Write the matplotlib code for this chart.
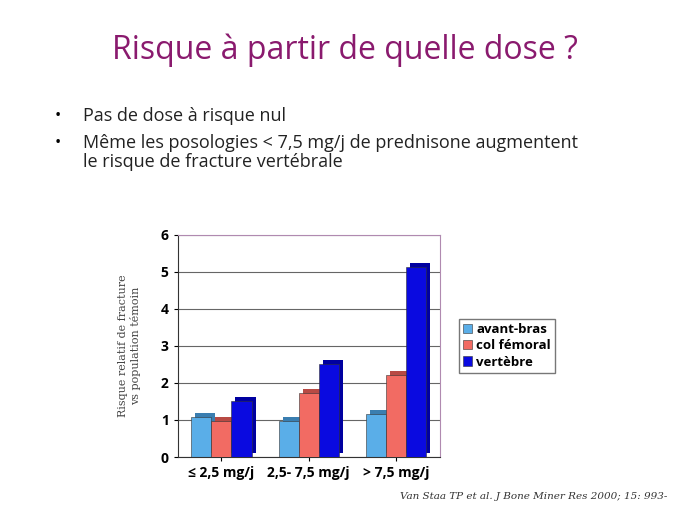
import matplotlib
matplotlib.use("Agg")
import matplotlib.pyplot as plt
import numpy as np
from matplotlib.transforms import ScaledTranslation

categories = ["≤ 2,5 mg/j", "2,5- 7,5 mg/j", "> 7,5 mg/j"]
series_names = ["avant-bras", "col fémoral", "vertèbre"]
avant_bras = [1.08, 0.97, 1.15]
col_femoral = [0.96, 1.72, 2.22]
vertebre = [1.52, 2.5, 5.13]
yticks = [0, 1, 2, 3, 4, 5, 6]

colors = ["#5aaee8", "#f26b63", "#0a0ae0"]
dark = ["#3a7eb0", "#b84a44", "#0000a0"]

fig = plt.figure(figsize=(6.89, 5.17), dpi=100)
fig.patch.set_facecolor("white")

fig.text(0.5, 0.903, "Risque à partir de quelle dose ?", ha="center", va="center",
         fontsize=23, color="#8a1a6e", family="Open Sans")
fs = 13
fig.text(0.08, 0.775, "•", fontsize=12, va="center", family="Open Sans")
fig.text(0.12, 0.775, "Pas de dose à risque nul", fontsize=fs, va="center", family="Open Sans", color="#222")
fig.text(0.08, 0.724, "•", fontsize=12, va="center", family="Open Sans")
fig.text(0.12, 0.724, "Même les posologies < 7,5 mg/j de prednisone augmentent", fontsize=fs, va="center", family="Open Sans", color="#222")
fig.text(0.12, 0.686, "le risque de fracture vertébrale", fontsize=fs, va="center", family="Open Sans", color="#222")

ax = fig.add_axes([0.258, 0.116, 0.38, 0.43])
x = np.arange(len(categories))
w = 0.23
data = [avant_bras, col_femoral, vertebre]
off = ScaledTranslation(4/100, 4/100, fig.dpi_scale_trans)
for i, vals in enumerate(data):
    pos = x + (i - 1) * w
    ax.bar(pos, vals, w, color=dark[i], edgecolor="none", zorder=2 + i,
           transform=ax.transData + off)
    ax.bar(pos, vals, w, color=colors[i], edgecolor="#333", linewidth=0.4,
           zorder=2.5 + i, label=series_names[i])

ax.set_ylim(0, 6)
ax.set_xlim(-0.5, 2.5)
ax.set_yticks(yticks)
ax.set_yticklabels([str(t) for t in yticks], fontsize=10, fontweight="bold", family="Open Sans")
ax.set_xticks(x)
ax.set_xticklabels(categories, fontsize=10, fontweight="bold", family="Open Sans")
ax.grid(axis="y", color="#666", linewidth=0.8, zorder=0)
for s in ["top", "right"]:
    ax.spines[s].set_color("#b08ab0")
ax.spines["left"].set_color("#333")
ax.spines["bottom"].set_color("#333")
ax.tick_params(length=3)
ax.set_ylabel("Risque relatif de fracture\nvs population témoin", fontsize=8,
              family="DejaVu Serif", color="#444", labelpad=14)

leg = ax.legend(loc="center left", bbox_to_anchor=(1.05, 0.5),
                prop={"family": "Open Sans", "weight": "bold", "size": 9.5},
                frameon=True, edgecolor="#555", fancybox=False,
                handlelength=0.7, handletextpad=0.3, borderpad=0.3, labelspacing=0.25)

fig.text(0.58, 0.035, "Van Staa TP et al. J Bone Miner Res 2000; 15: 993-",
         fontsize=7.5, style="italic", family="DejaVu Serif", color="#333")

fig.savefig("out.png", dpi=100)
